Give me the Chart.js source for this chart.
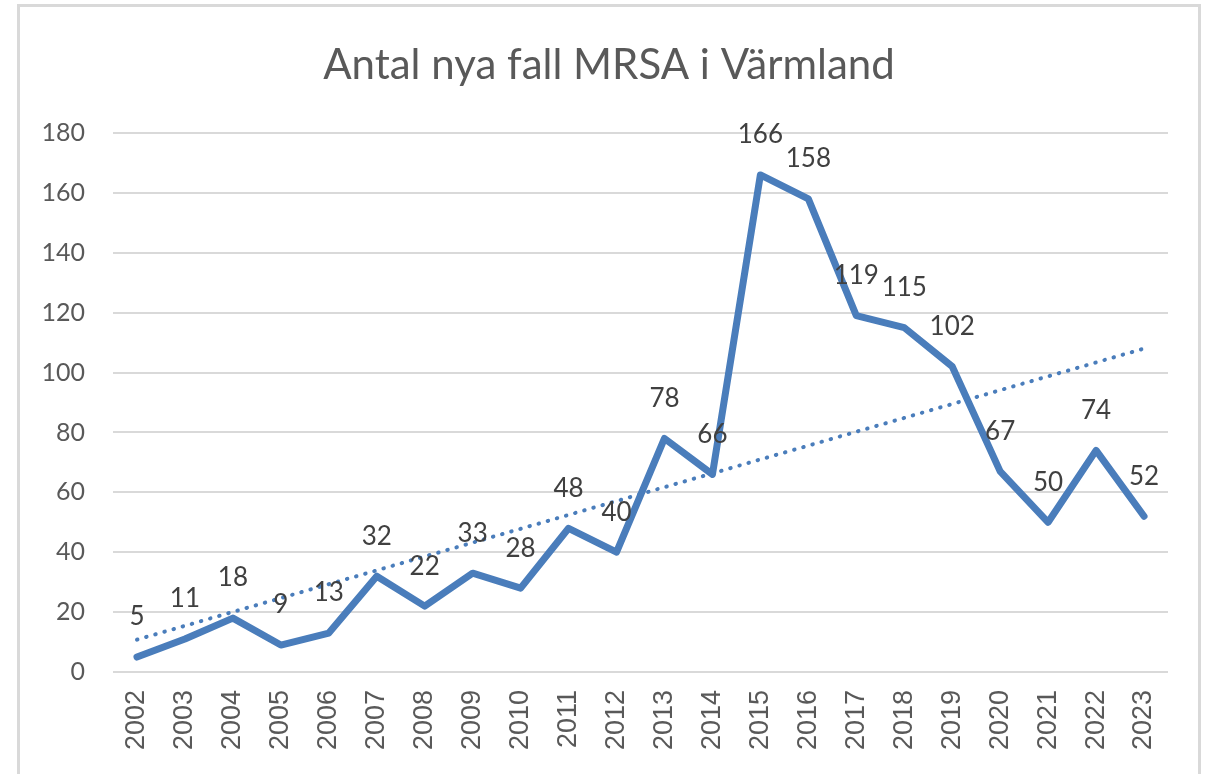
<!DOCTYPE html>
<html>
<head>
<meta charset="utf-8">
<script src="https://cdn.jsdelivr.net/npm/chart.js@4.4.1/dist/chart.umd.min.js"></script>
<style>
  html, body { margin: 0; padding: 0; background: #ffffff; overflow: hidden; }
  #frame { position: absolute; left: 17px; top: 4px; width: 1184px; height: 800px; border: 3px solid #d9d9d9; box-sizing: border-box; }
  #c { position: absolute; left: 0; top: 0; }
</style>
</head>
<body>
<div id="frame"></div>
<canvas id="c" width="1218" height="774"></canvas>
<script>
const years = ['2002','2003','2004','2005','2006','2007','2008','2009','2010','2011','2012','2013','2014','2015','2016','2017','2018','2019','2020','2021','2022','2023'];
const cases = [5, 11, 18, 9, 13, 32, 22, 33, 28, 48, 40, 78, 66, 166, 158, 119, 115, 102, 67, 50, 74, 52];
// linear trendline end points
const trendStart = 10.8;
const trendEnd = 108;
const yTicks = [0, 20, 40, 60, 80, 100, 120, 140, 160, 180];
const chartTitle = 'Antal nya fall MRSA i Värmland';

const trend = years.map((_, i) => i === 0 ? trendStart : (i === years.length - 1 ? trendEnd : null));

const labelPlugin = {
  id: 'valueLabels',
  afterDatasetsDraw(chart) {
    const meta = chart.getDatasetMeta(1);
    const ctx = chart.ctx;
    ctx.save();
    ctx.font = '26px Lato';
    ctx.fillStyle = '#404040';
    ctx.textAlign = 'center';
    ctx.textBaseline = 'middle';
    meta.data.forEach((pt, i) => {
      ctx.fillText(String(cases[i]), pt.x, pt.y - 40);
    });
    ctx.restore();
  }
};

new Chart(document.getElementById('c'), {
  type: 'line',
  data: {
    labels: years,
    datasets: [
      {
        label: 'Trend',
        data: trend,
        spanGaps: true,
        borderColor: '#4a7dbb',
        borderWidth: 4,
        borderDash: [0.5, 9],
        borderCapStyle: 'round',
        pointRadius: 0,
        fill: false,
        order: 0
      },
      {
        label: 'Antal',
        data: cases,
        borderColor: '#4a7dbb',
        borderWidth: 7,
        borderJoinStyle: 'round',
        borderCapStyle: 'round',
        pointRadius: 0,
        tension: 0,
        fill: false,
        order: 1
      }
    ]
  },
  options: {
    responsive: false,
    animation: false,
    devicePixelRatio: 1,
    layout: { padding: { top: 0, right: 0, bottom: 0, left: 0 } },
    plugins: {
      legend: { display: false },
      tooltip: { enabled: false },
      title: {
        display: true,
        text: chartTitle,
        color: '#595959',
        font: { family: 'Lato', size: 42, weight: 'normal', lineHeight: 1.2 },
        padding: { top: 40, bottom: 42.6 }
      }
    },
    scales: {
      x: {
        type: 'category',
        offset: true,
        grid: { display: false, drawTicks: false },
        border: { display: false },
        ticks: {
          autoSkip: false,
          minRotation: 90,
          maxRotation: 90,
          padding: 18,
          color: '#595959',
          font: { family: 'Liberation Sans', size: 27 }
        },
        afterFit(scale) { scale.height = 102; }
      },
      y: {
        min: 0,
        max: 180,
        afterBuildTicks(scale) { scale.ticks = yTicks.map(v => ({ value: v })); },
        grid: { color: '#d9d9d9', lineWidth: 2, drawTicks: false },
        border: { display: false },
        ticks: {
          padding: 28,
          color: '#595959',
          font: { family: 'Lato', size: 25 }
        },
        afterFit(scale) { scale.width = 113; }
      },
      yRight: {
        position: 'right',
        display: true,
        grid: { display: false, drawTicks: false },
        border: { display: false },
        ticks: { display: false },
        afterFit(scale) { scale.width = 50; }
      }
    }
  },
  plugins: [labelPlugin]
});
</script>
</body>
</html>
